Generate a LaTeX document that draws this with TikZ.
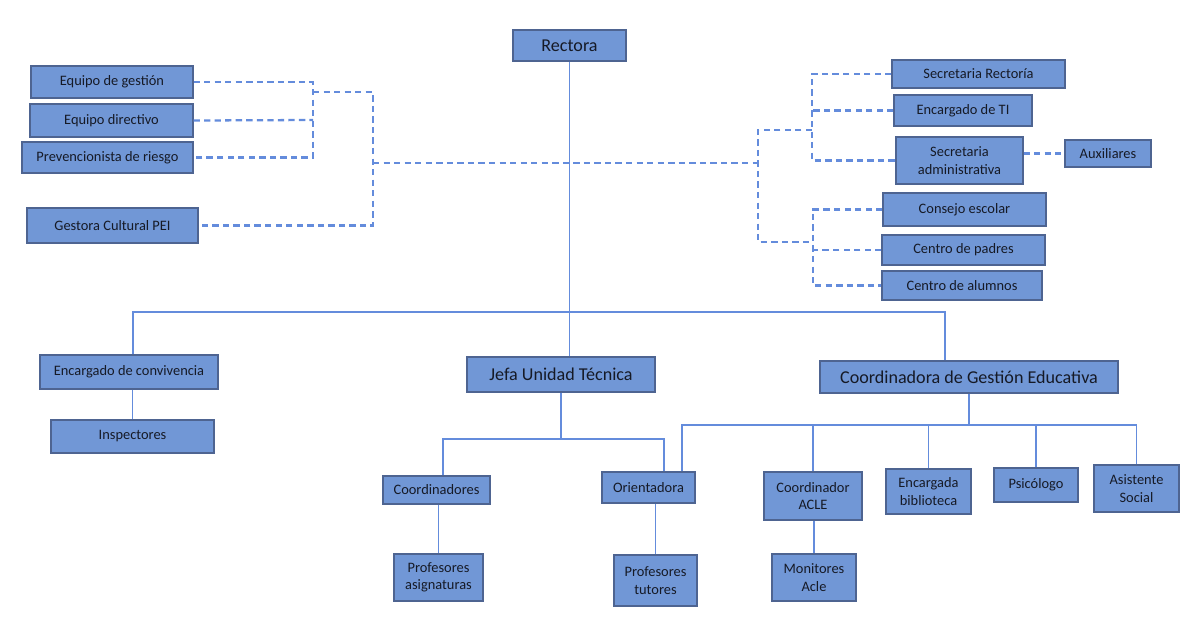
\documentclass[tikz,border=0pt]{standalone}
\usepackage{fontspec}
\setmainfont{Carlito}
\usepackage{xcolor}
\usetikzlibrary{positioning}

\definecolor{boxfill}{RGB}{113,151,214}
\definecolor{boxline}{RGB}{78,100,145}
\definecolor{linkcol}{RGB}{100,140,220}
\definecolor{textcol}{RGB}{22,26,38}

\begin{document}
\begin{tikzpicture}[
    x=0.02cm, y=-0.02cm,
    every node/.style={font=\fontsize{8.2}{10}\selectfont, text=textcol},
    box/.style={draw=boxline, fill=boxfill, line width=0.6pt, inner sep=1pt, align=center},
    big/.style={font=\fontsize{10.3}{12}\selectfont},
    boxsize/.style 2 args={minimum width=#1*0.02cm, minimum height=#2*0.02cm},
    tie/.style={draw=linkcol, line width=0.9pt},
    link/.style={draw=linkcol, line width=1.3pt, dash pattern=on 3.6pt off 2.4pt}
  ]
  \useasboundingbox (0,0) rectangle (1200,623);

  % Top
  \node[box, big, boxsize={113}{31}] (rectora) at (569.5, 45.5) {Rectora};

  % Left staff
  \node[box, boxsize={162}{32}] (gestion)    at (112, 82)     {Equipo de gestión};
  \node[box, boxsize={163}{33}] (directivo)  at (111.5, 120.5) {Equipo directivo};
  \node[box, boxsize={171}{31}] (prevencion) at (107.5, 157.5) {Prevencionista de riesgo};
  \node[box, boxsize={171}{35}] (gestora)    at (112.5, 225.5) {Gestora Cultural PEI};

  % Right staff
  \node[box, boxsize={173}{28}] (secrector)  at (978.5, 74)    {Secretaria Rectoría};
  \node[box, boxsize={138}{31}] (encti)      at (963, 110.5)   {Encargado de TI};
  \node[box, boxsize={127}{47}] (secadmin)   at (959.5, 160.5) {Secretaria\\administrativa};
  \node[box, boxsize={86}{27}]  (auxiliares) at (1108, 153.5)  {Auxiliares};
  \node[box, boxsize={163}{33}] (consejo)    at (964.5, 209.5) {Consejo escolar};
  \node[box, boxsize={163}{30}] (padres)     at (963.5, 250)   {Centro de padres};
  \node[box, boxsize={160}{29}] (alumnos)    at (962, 285.5)   {Centro de alumnos};

  % Second level
  \node[box, boxsize={178}{34}] (convivencia) at (129, 372)    {Encargado de convivencia};
  \node[box, boxsize={163}{33}] (inspectores) at (132.5, 436.5) {Inspectores};
  \node[box, big, boxsize={188}{35}] (jefa)      at (561, 374.5) {Jefa Unidad Técnica};
  \node[box, big, boxsize={298}{32}] (coordgest) at (969, 377)   {Coordinadora de Gestión Educativa};

  % Third level
  \node[box, boxsize={107}{28}] (coordinadores) at (436.5, 490)  {Coordinadores};
  \node[box, boxsize={89}{47}]  (profasig)      at (438.5, 577.5) {Profesores\\asignaturas};
  \node[box, boxsize={93}{31}]  (orientadora)   at (648.5, 487.5) {Orientadora};
  \node[box, boxsize={83}{51}]  (proftut)       at (655.5, 580.5) {Profesores\\tutores};
  \node[box, boxsize={98}{48}]  (acle)          at (813, 496)    {Coordinador\\ACLE};
  \node[box, boxsize={84}{47}]  (monitores)     at (814, 577.5)  {Monitores\\Acle};
  \node[box, boxsize={85}{45}]  (biblioteca)    at (928.5, 491.5) {Encargada\\biblioteca};
  \node[box, boxsize={84}{34}]  (psicologo)     at (1036, 485)   {Psicólogo};
  \node[box, boxsize={85}{47}]  (asistente)     at (1136.5, 488.5) {Asistente\\Social};

  % Bus points
  \coordinate (busL) at (133, 312);
  \coordinate (busR) at (945, 312);
  \coordinate (jL) at (443, 439);
  \coordinate (jR) at (664, 439);
  \coordinate (cL) at (682, 425);
  \coordinate (lb) at (313, 120);
  \coordinate (lbtop) at (313, 92);
  \coordinate (lb2) at (373, 163);
  \coordinate (rb) at (758, 163);
  \coordinate (rb1) at (812, 130);
  \coordinate (rb2) at (813, 242);

  % Solid hierarchy
  \draw[tie] (rectora.south) -- (rectora.south |- jefa.north);
  \draw[tie] (convivencia.north -| busL) -- (busL) -- (busR) -- (busR |- coordgest.north);
  \draw[tie] (inspectores.north |- convivencia.south) -- (inspectores.north);
  \draw[tie] (jefa.south) -- (jefa.south |- jL);
  \draw[tie] (coordinadores.north -| jL) -- (jL) -- (jR) -- (orientadora.north -| jR);
  \draw[tie] (profasig.north |- coordinadores.south) -- (profasig.north);
  \draw[tie] (proftut.north |- orientadora.south) -- (proftut.north);
  \draw[tie] (coordgest.south) -- (coordgest.south |- cL);
  \draw[tie] (orientadora.north -| cL) -- (cL) -- (cL -| asistente.north);
  \foreach \n in {acle, biblioteca, psicologo, asistente}
    \draw[tie] (\n.north) -- (\n.north |- cL);
  \draw[tie] (monitores.north |- acle.south) -- (monitores.north);

  % Dashed staff links, left
  \draw[link] (gestion.east) -| (lb) |- (prevencion.east);
  \draw[link] (directivo.east) -- (lb);
  \draw[link] (lbtop) -| (lb2) |- (gestora.east);
  \draw[link] (lb2) -- (rb);

  % Dashed staff links, right
  \draw[link] (rb1) -| (rb) |- (rb2);
  \draw[link] (secrector.west) -| (rb1) |- (secadmin.west);
  \draw[link] (encti.west) -- (encti.west -| rb1);
  \draw[link] (consejo.west) -| (rb2) |- (alumnos.west);
  \draw[link] (padres.west) -- (padres.west -| rb2);
  \draw[link] (auxiliares.west -| secadmin.east) -- (auxiliares.west);
\end{tikzpicture}
\end{document}
